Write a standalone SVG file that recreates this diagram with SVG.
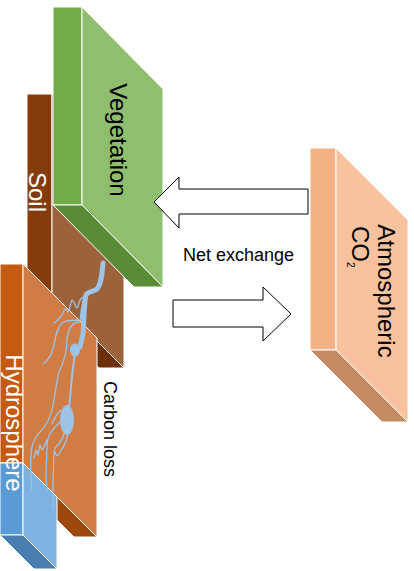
<svg xmlns="http://www.w3.org/2000/svg" width="414" height="571" viewBox="0 0 414 571">
<style>
.face{stroke:#ffffff;stroke-width:1;stroke-linejoin:round}
.lbl{font-family:"Liberation Sans",Arial,sans-serif;font-size:24px}
.small{font-family:"Liberation Sans",Arial,sans-serif;font-size:18px;fill:#000}
.arrow{fill:#ffffff;stroke:#000000;stroke-width:1}
.root{fill:none;stroke:#9DC3E6;stroke-linecap:round;stroke-linejoin:round}
</style>
<rect width="414" height="571" fill="#ffffff"/>

<g id="atmospheric-co2">
<polygon class="face" fill="#F4B183" points="310,148 336,148 336,350 310,350"/>
<polygon class="face" fill="#F7C29D" points="336,148 408,220 408,422 336,350"/>
<polygon class="face" fill="#C58C64" points="310,350 336,350 408,422 382,422"/>
<text class="lbl" fill="#000" text-anchor="middle" transform="translate(378,291) rotate(90)">Atmospheric</text>
<text class="lbl" fill="#000" transform="translate(352,226) rotate(90)">CO<tspan x="36" dy="5" font-size="10">2</tspan></text>
</g>

<g id="soil">
<polygon class="face" fill="#843C0C" points="27,94 52,94 52,296 27,296"/>
<polygon class="face" fill="#9C623A" points="52,94 124,166 124,368 52,296"/>
<polygon class="face" fill="#6B300A" points="27,296 52,296 124,368 99,368"/>
<text class="lbl" fill="#fff" text-anchor="middle" transform="translate(29,192) rotate(90)">Soil</text>
</g>

<g id="vegetation">
<polygon class="face" fill="#70AD47" points="53,7 82,7 82,205 53,205"/>
<polygon class="face" fill="#8FBF6E" points="82,7 163,89 163,287 82,205"/>
<polygon class="face" fill="#5A8C38" points="53,205 82,205 163,287 134,287"/>
<text class="lbl" fill="#000" text-anchor="middle" transform="translate(110,140) rotate(90)">Vegetation</text>
</g>

<g id="hydrosphere">
<polygon class="face" fill="#C55A11" points="0,264 23,264 23,463 0,463"/>
<polygon class="face" fill="#D07C45" points="23,264 97,338 97,537 23,463"/>
<polygon class="face" fill="#9E480E" points="0,463 23,463 97,537 74,537"/>
<g id="water">
<polygon class="face" fill="#5B9BD5" points="0,463 23,463 23,535 0,535"/>
<polygon class="face" fill="#7DB1E0" points="23,463 57,497 57,569 23,535"/>
<polygon class="face" fill="#4A7EB0" points="0,535 23,535 57,569 34,569"/>
</g>
<text class="lbl" fill="#fff" text-anchor="middle" transform="translate(6,423) rotate(90)">Hydrosphere</text>
</g>

<g id="roots">
<path class="root" stroke-width="5" d="M103,263 C102,276 101,284 97,289 C93,292 88,291 86,295 C84,302 84,320 83,334 L80,347"/>
<path class="root" stroke-width="2.5" d="M86,296 C82,303 82,310 81,318"/>
<ellipse cx="75" cy="350" rx="5" ry="6.5" fill="#9DC3E6"/>
<path class="root" stroke-width="2" d="M75,354 C72,370 71,390 69,408"/>
<ellipse cx="67" cy="420" rx="7" ry="15" fill="#9DC3E6"/>
<path class="root" stroke-width="1.3" d="M85,297 C80,297 79,302 78,307 C76,311 75,301 72,300 C70,304 70,310 68,312 C66,307 64,309 63,313 C61,318 58,320 54,323"/>
<path class="root" stroke-width="1.3" d="M81,320 C75,320 68,320 63,322 C58,326 56,333 54,345 C52,355 49,360 43,364"/>
<path class="root" stroke-width="1.3" d="M80,322 C72,322 68,328 67,340 C67,352 64,362 59,372 C56,385 55,395 53,405 C51,418 46,426 40,432 C34,438 31,446 31,456 C30,470 31,480 32,490"/>
<path class="root" stroke-width="1.3" d="M60,422 C55,427 52,430 50,434 C48,438 47,440 47,445 C47,455 46,465 46,475 C46,482 47,487 47,490"/>
<path class="root" stroke-width="1.3" d="M47,440 C44,444 44,450 42,450 L40,445 L38,455 L36,450 L34,458"/>
<path class="root" stroke-width="1.3" d="M64,434 C62,442 57,446 55,448 C53,455 54,465 53,480 C53,490 53,500 53,510"/>
<path class="root" stroke-width="1.3" d="M68,434 C66,443 63,448 60,452 C58,456 57,458 55,452"/>
<path class="root" stroke-width="1.3" d="M61,410 C57,414 54,418 52,424"/>
</g>

<g id="connectors">
<path class="arrow" d="M308,189 L179,189 L179,177 L154,202 L179,228 L179,214 L308,214 Z"/>
<path class="arrow" d="M173,300 L263,300 L263,287 L291,314 L263,341 L263,327 L173,327 Z"/>
<text class="small" x="238.5" y="261" text-anchor="middle">Net exchange</text>
<text class="small" text-anchor="middle" transform="translate(104,429) rotate(90)">Carbon loss</text>
</g>
</svg>
